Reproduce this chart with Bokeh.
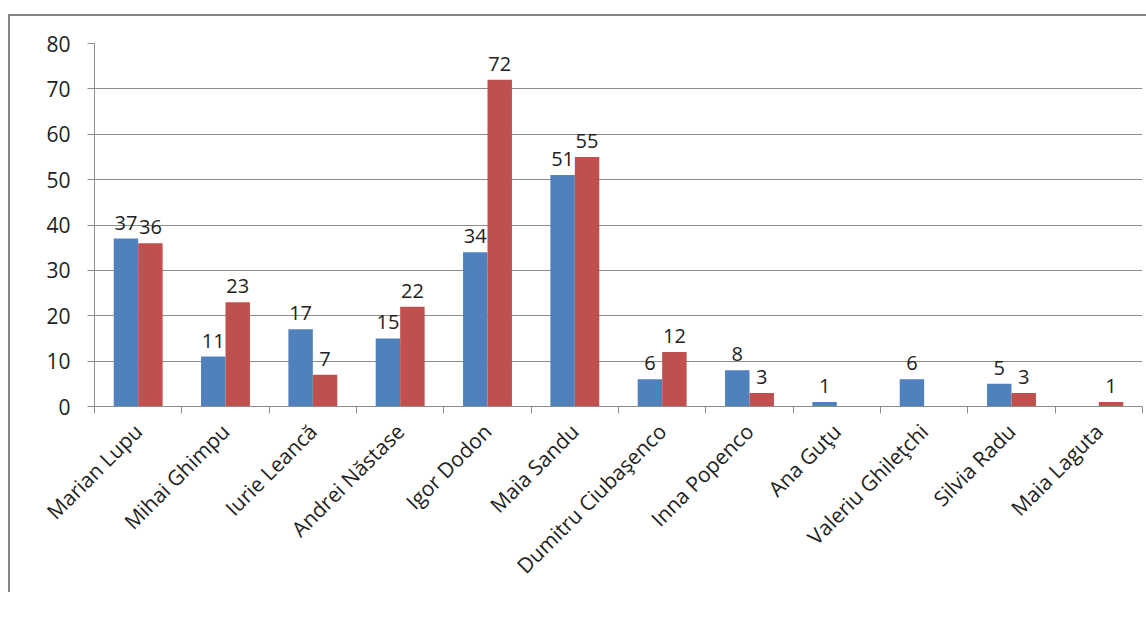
import math
from bokeh.plotting import figure
from bokeh.models import (ColumnDataSource, FactorRange, Range1d, FixedTicker, LinearAxis,
                          CategoricalAxis, Legend, LegendItem)
from bokeh.transform import dodge
from bokeh.core.properties import value
from bokeh.embed import file_html
from bokeh.resources import INLINE

names = ["Marian Lupu", "Mihai Ghimpu", "Iurie Leancă", "Andrei Năstase", "Igor Dodon",
         "Maia Sandu", "Dumitru Ciubaşenco", "Inna Popenco", "Ana Guţu", "Valeriu Ghileţchi",
         "Silvia Radu", "Maia Laguta"]
favorizare = [37, 11, 17, 15, 34, 51, 6, 8, 1, 6, 5, 0]
defavorizare = [36, 23, 7, 22, 72, 55, 12, 3, 0, 0, 3, 1]
y_ticks = [0, 10, 20, 30, 40, 50, 60, 70, 80]

FONT = "Open Sans"
BLUE = "#4F81BD"
RED = "#C0504D"
GRID = "#8C8C8C"
EDGE = "#868686"

src = ColumnDataSource(dict(name=names, fav=favorizare, defav=defavorizare))
fav_lbl = ColumnDataSource(dict(
    name=[n for n, v in zip(names, favorizare) if v],
    v=[v for v in favorizare if v],
    t=[str(v) for v in favorizare if v]))
def_lbl = ColumnDataSource(dict(
    name=[n for n, v in zip(names, defavorizare) if v],
    v=[v for v in defavorizare if v],
    t=[str(v) for v in defavorizare if v]))

p = figure(frame_width=1048, frame_height=363, x_range=FactorRange(*names), y_range=Range1d(0, 80),
           output_backend="svg", toolbar_location=None, x_axis_location=None,
           min_border_left=94, min_border_top=43, min_border_right=4, min_border_bottom=0,
           border_fill_alpha=0, background_fill_color="white")
p.styles = {
    "background": ("linear-gradient(%s,%s) 8px 14px / 2px 2000px no-repeat, "
                   "linear-gradient(%s,%s) 8px 14px / 2000px 2px no-repeat, white")
                  % (EDGE, EDGE, EDGE, EDGE)
}

r1 = p.vbar(x=dodge("name", -0.14, range=p.x_range), top="fav", width=0.28, source=src,
            fill_color=BLUE, line_color=None)
r2 = p.vbar(x=dodge("name", 0.14, range=p.x_range), top="defav", width=0.28, source=src,
            fill_color=RED, line_color=None)

p.text(x=dodge("name", -0.14, range=p.x_range), y="v", text="t", source=fav_lbl,
       text_font=value(FONT), text_font_size="20px", text_color="#222222",
       text_align="center", text_baseline="alphabetic", y_offset=-16)
p.text(x=dodge("name", 0.14, range=p.x_range), y="v", text="t", source=def_lbl,
       text_font=value(FONT), text_font_size="20px", text_color="#222222",
       text_align="center", text_baseline="alphabetic", y_offset=-16)

# y axis
yax = p.yaxis[0]
yax.ticker = FixedTicker(ticks=y_ticks)
yax.major_tick_in = 0
yax.major_tick_out = 7
yax.minor_tick_line_color = None
yax.axis_line_color = GRID
yax.major_tick_line_color = GRID
yax.major_label_text_font = FONT
yax.major_label_text_font_size = "21px"
yax.major_label_text_color = "#222222"
yax.major_label_standoff = 17

# x axis with ticks at category boundaries (synthetic coordinates 0..12)
tax = LinearAxis(ticker=FixedTicker(ticks=list(range(len(names) + 1))),
                 major_tick_in=0, major_tick_out=7, minor_tick_line_color=None,
                 axis_line_color=GRID, major_tick_line_color=GRID,
                 major_label_text_font_size="1px", major_label_text_alpha=0,
                 major_label_standoff=0)
p.add_layout(tax, "below")
cax = CategoricalAxis(axis_line_color=None, major_tick_line_color=None,
                      minor_tick_line_color=None, major_label_orientation=math.pi / 4,
                      major_label_text_font=FONT, major_label_text_font_size="21px",
                      major_label_text_color="#222222", major_label_standoff=8)
p.add_layout(cax, "below")

p.xgrid.grid_line_color = None
p.ygrid.grid_line_color = GRID
p.ygrid.ticker = FixedTicker(ticks=y_ticks)
p.outline_line_color = None

# legend placed below the frame (screen offset from the frame's bottom-left corner)
legend = Legend(items=[LegendItem(label="favorizare", renderers=[r1]),
                       LegendItem(label="defavorizare", renderers=[r2])],
                orientation="horizontal", location=(218, -211), spacing=292,
                glyph_width=15, glyph_height=15, label_standoff=5,
                label_text_font=FONT, label_text_font_size="21px", label_text_color="#222222",
                border_line_color=None, background_fill_alpha=0, padding=0, margin=0)
p.add_layout(legend, "center")

open("out.html", "w").write(file_html(p, INLINE))
